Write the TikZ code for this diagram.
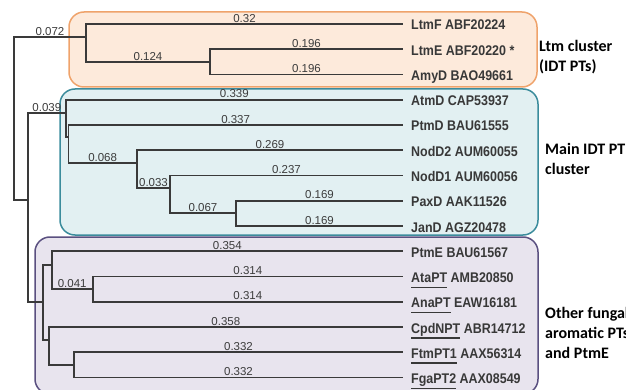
\documentclass[tikz,border=0pt]{standalone}
\usepackage{fontspec}
\setmainfont{Liberation Sans}
\newfontfamily\leaffont[FakeStretch=0.89]{Liberation Sans}
\newfontfamily\clusterfont{Carlito}
\usetikzlibrary{calc}

\definecolor{treeline}{HTML}{3A3A3A}
\definecolor{numgray}{HTML}{3C3C3C}
\definecolor{leafgray}{HTML}{383838}
\definecolor{ltmfill}{HTML}{FDEADB}
\definecolor{ltmdraw}{HTML}{EFA36B}
\definecolor{idtfill}{HTML}{E2F0F2}
\definecolor{idtdraw}{HTML}{3B8C9C}
\definecolor{othfill}{HTML}{E8E4EE}
\definecolor{othdraw}{HTML}{5A5080}

% underlined gene name, with a heavier rule set a little below the baseline
\newsavebox{\ulnamebox}
\newcommand{\ulname}[1]{\sbox{\ulnamebox}{#1}\rlap{\rule[-5.5pt]{\wd\ulnamebox}{1.5pt}}\usebox{\ulnamebox}}

\tikzset{
  branch/.style={draw=treeline, line width=1.6pt},
  blen/.style={pos=0.75, above, inner sep=1pt, text=numgray,
    font=\fontsize{11.5}{11.5}\selectfont, text height=8.3pt, text depth=0pt},
  leaf/.style={anchor=west, inner xsep=8pt, inner ysep=1pt, text=leafgray,
    font=\leaffont\bfseries\fontsize{14}{14}\selectfont, text height=12pt, text depth=0pt},
  clade/.style={rounded corners=15pt, line width=1.5pt},
  clusterlabel/.style={anchor=base west, align=left, inner sep=0pt,
    font=\clusterfont\bfseries\fontsize{16}{20}\selectfont, text=black}
}

\begin{document}
\begin{tikzpicture}[x=1pt, y=-1pt]
\useasboundingbox (0,0) rectangle (626,390);

% clade backgrounds
\draw[clade, fill=ltmfill, draw=ltmdraw] (69,12) rectangle (537,87);
\draw[clade, fill=idtfill, draw=idtdraw] (60,89) rectangle (538,235);
\draw[clade, fill=othfill, draw=othdraw] (35,237) rectangle (538,394);

% leaves
\node[leaf] (ltmf)  at (403,24.00)  {LtmF ABF20224};
\node[leaf] (ltme)  at (403,49.25)  {LtmE ABF20220 *};
\node[leaf] (amyd)  at (403,74.50)  {AmyD BAO49661};
\node[leaf] (atmd)  at (403,99.75)  {AtmD CAP53937};
\node[leaf] (ptmd)  at (403,125.00) {PtmD BAU61555};
\node[leaf] (nodd2) at (403,150.25) {NodD2 AUM60055};
\node[leaf] (nodd1) at (403,175.50) {NodD1 AUM60056};
\node[leaf] (paxd)  at (403,200.75) {PaxD AAK11526};
\node[leaf] (jand)  at (403,226.00) {JanD AGZ20478};
\node[leaf] (ptme)  at (403,251.25) {PtmE BAU61567};
\node[leaf] (atapt) at (403,276.50) {\ulname{AtaPT} AMB20850};
\node[leaf] (anapt) at (403,301.75) {\ulname{AnaPT} EAW16181};
\node[leaf] (cpdnpt) at (403,327.00) {\ulname{CpdNPT} ABR14712};
\node[leaf] (ftmpt) at (403,352.25) {\ulname{FtmPT1} AAX56314};
\node[leaf] (fgapt) at (403,377.50) {\ulname{FgaPT2} AAX08549};

% internal nodes (x = depth, y = where the parent branch joins)
\coordinate (root) at (14,118);
\coordinate (ltm)  at (86,37);
\coordinate (ltm2) at (210,62);
\coordinate (n2)   at (28,200);
\coordinate (idtA) at (65.7,113);
\coordinate (idtB) at (68.3,137);
\coordinate (idtC) at (137,163);
\coordinate (idtD) at (170,188);
\coordinate (idtE) at (236,213);
\coordinate (othP) at (42.7,302);
\coordinate (othQ) at (51.7,265);
\coordinate (othR) at (92.7,289);
\coordinate (othS) at (48.7,340);
\coordinate (othT) at (74,365);

% branches
\draw[branch] (root) |- node[blen]{0.072} (ltm);
\draw[branch] (root) |- (n2);
\draw[branch] (ltm) |- node[blen]{0.32} (ltmf.west);
\draw[branch] (ltm) |- node[blen]{0.124} (ltm2);
\draw[branch] (ltm2) |- node[blen]{0.196} (ltme.west);
\draw[branch] (ltm2) |- node[blen]{0.196} (amyd.west);

\draw[branch] (n2) |- node[blen]{0.039} (idtA);
\draw[branch] (n2) |- (othP);
\draw[branch] (idtA) |- node[blen]{0.339} (atmd.west);
\draw[branch] (idtA) |- (idtB);
\draw[branch] (idtB) |- node[blen]{0.337} (ptmd.west);
\draw[branch] (idtB) |- node[blen]{0.068} (idtC);
\draw[branch] (idtC) |- node[blen]{0.269} (nodd2.west);
\draw[branch] (idtC) |- node[blen]{0.033} (idtD);
\draw[branch] (idtD) |- node[blen]{0.237} (nodd1.west);
\draw[branch] (idtD) |- node[blen]{0.067} (idtE);
\draw[branch] (idtE) |- node[blen]{0.169} (paxd.west);
\draw[branch] (idtE) |- node[blen]{0.169} (jand.west);

\draw[branch] (othP) |- (othQ);
\draw[branch] (othP) |- (othS);
\draw[branch] (othQ) |- node[blen]{0.354} (ptme.west);
\draw[branch] (othQ) |- node[blen]{0.041} (othR);
\draw[branch] (othR) |- node[blen]{0.314} (atapt.west);
\draw[branch] (othR) |- node[blen]{0.314} (anapt.west);
\draw[branch] (othS) |- node[blen]{0.358} (cpdnpt.west);
\draw[branch] (othS) |- (othT);
\draw[branch] (othT) |- node[blen]{0.332} (ftmpt.west);
\draw[branch] (othT) |- node[blen]{0.332} (fgapt.west);

% cluster captions
\node[clusterlabel] (capLtm) at (539,72) {Ltm cluster\\(IDT PTs)};
\node[clusterlabel] (capIdt) at (545,175) {Main IDT PT\\cluster};
\node[clusterlabel] (capOth) at (545,358) {Other fungal\\aromatic PTs\\and PtmE};
\end{tikzpicture}
\end{document}
